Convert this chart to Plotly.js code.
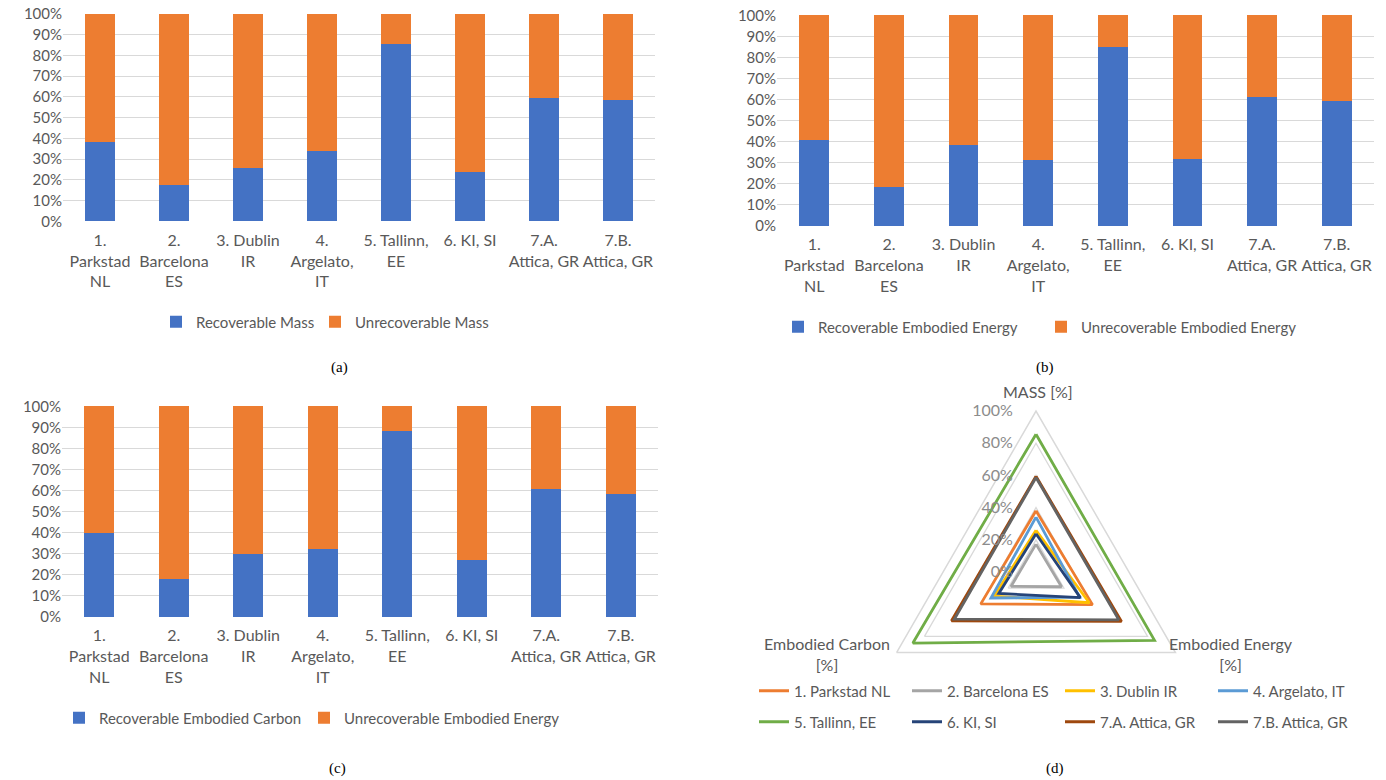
<!DOCTYPE html>
<html><head><meta charset="utf-8">
<script src="https://cdn.plot.ly/plotly-3.0.1.min.js"></script>
<style>html,body{margin:0;padding:0;background:#fff}#chart{width:1386px;height:780px}</style>
</head><body><div id="chart"></div>
<script>
// ---- data ----
const categories = ['1.<br>Parkstad<br>NL','2.<br>Barcelona<br>ES','3. Dublin<br>IR','4.<br>Argelato,<br>IT','5. Tallinn,<br>EE','6. KI, SI','7.A.<br>Attica, GR','7.B.<br>Attica, GR'];
const caseNames = ['1. Parkstad NL','2. Barcelona ES','3. Dublin IR','4. Argelato, IT','5. Tallinn, EE','6. KI, SI','7.A. Attica, GR','7.B. Attica, GR'];

const recoverableMass   = [0.380,0.173,0.259,0.341,0.856,0.238,0.595,0.587];
const unrecoverableMass = [0.620,0.827,0.741,0.659,0.144,0.762,0.405,0.413];

const recoverableEnergy   = [0.405,0.183,0.382,0.313,0.850,0.318,0.613,0.594];
const unrecoverableEnergy = [0.595,0.817,0.618,0.687,0.150,0.682,0.387,0.406];

const recoverableCarbon   = [0.396,0.179,0.299,0.323,0.883,0.267,0.606,0.585];
const unrecoverableCarbonPanel = [0.604,0.821,0.701,0.677,0.117,0.733,0.394,0.415];

const seriesNamesA = ['Recoverable Mass','Unrecoverable Mass'];
const seriesNamesB = ['Recoverable Embodied Energy','Unrecoverable Embodied Energy'];
const seriesNamesC = ['Recoverable Embodied Carbon','Unrecoverable Embodied Energy'];

const radarAxes = ['MASS [%]','Embodied Energy<br>[%]','Embodied Carbon<br>[%]'];
const yTicks = [0,0.1,0.2,0.3,0.4,0.5,0.6,0.7,0.8,0.9,1.0];
const radarTicks = [0,0.2,0.4,0.6,0.8,1.0];
const panelCaptions = ['(a)','(b)','(c)','(d)'];

// ---- styles ----
const W = 1386, H = 780;
const px = x => x / W, py = y => 1 - y / H;
const BLUE = '#4472C4', ORANGE = '#ED7D31';
const radarColors = ['#ED7D31','#A5A5A5','#FFC000','#5B9BD5','#70AD47','#264478','#9E480E','#636363'];
const TXT = '#595959';

const traces = [];
function addBars(xa, ya, rec, unrec, names, leg) {
  traces.push({type:'bar', x:categories, y:rec, name:names[0], marker:{color:BLUE}, xaxis:xa, yaxis:ya, legend:leg, hoverinfo:'y'});
  traces.push({type:'bar', x:categories, y:unrec, name:names[1], marker:{color:ORANGE}, xaxis:xa, yaxis:ya, legend:leg, legendwidth:260, hoverinfo:'y'});
}
addBars('x','y',recoverableMass,unrecoverableMass,seriesNamesA,'legend');
addBars('x2','y2',recoverableEnergy,unrecoverableEnergy,seriesNamesB,'legend2');
addBars('x3','y3',recoverableCarbon,unrecoverableCarbonPanel,seriesNamesC,'legend3');

caseNames.forEach((nm, i) => {
  const r = [recoverableMass[i], recoverableEnergy[i], recoverableCarbon[i], recoverableMass[i]];
  traces.push({type:'scatterpolar', subplot:'polar', mode:'lines', r:r,
    theta:[radarAxes[0], radarAxes[1], radarAxes[2], radarAxes[0]],
    name:nm, line:{color:radarColors[i], width:2.8}, legend: i < 4 ? 'legend4' : 'legend5'});
});

function xAxis(d, anchor) {
  return {domain:d, anchor:anchor, type:'category', showgrid:false, zeroline:false, showline:false, ticks:'',
    tickangle:0, tickfont:{size:16, color:TXT}, ticklabelstandoff:7, fixedrange:true};
}
function yAxis(d, anchor) {
  return {domain:d, anchor:anchor, range:[-0.002,1.002], tickvals:yTicks, tickformat:'.0%', gridcolor:'#d9d9d9', gridwidth:1,
    zeroline:false, showline:false, ticks:'', tickfont:{size:15, color:TXT}, fixedrange:true};
}
function legendAt(x, y, ew) {
  return {orientation:'h', x:px(x), y:py(y), xanchor:'left', yanchor:'middle', entrywidth:ew, entrywidthmode:'pixels',
    font:{size:15, color:TXT}, bgcolor:'rgba(0,0,0,0)', traceorder:'normal'};
}

const captionFont = {family:'"Liberation Serif", "DejaVu Serif", serif', size:15, color:'#000'};
const radarLabelFont = {size:16, color:TXT};

const layout = {
  width:W, height:H, margin:{l:0,r:0,t:0,b:0},
  paper_bgcolor:'#ffffff', plot_bgcolor:'rgba(0,0,0,0)',
  font:{family:'Lato, "Open Sans", sans-serif', size:15, color:TXT},
  barmode:'stack', bargap:0.6,
  showlegend:true,
  xaxis:  xAxis([px(63),  px(655)],  'y'),
  yaxis:  yAxis([py(221.7), py(13.5)], 'x'),
  xaxis2: xAxis([px(777), px(1374)], 'y2'),
  yaxis2: yAxis([py(226), py(15)],   'x2'),
  xaxis3: xAxis([px(62),  px(658)],  'y3'),
  yaxis3: yAxis([py(617), py(406)],  'x3'),
  legend:  legendAt(156, 322, 114),
  legend2: legendAt(778, 327, 218),
  legend3: legendAt(59, 718, 200),
  legend4: legendAt(754, 691, 108),
  legend5: legendAt(754, 722, 108),
  polar: {
    domain:{x:[px(875), px(1197)], y:[py(733), py(411)]},
    bgcolor:'rgba(0,0,0,0)',
    gridshape:'linear',
    angularaxis:{direction:'clockwise', rotation:90, showgrid:false, showline:true, linecolor:'#d9d9d9', linewidth:1.5,
      ticks:'', showticklabels:false, categoryorder:'array', categoryarray:radarAxes},
    radialaxis:{range:[0,1], tickvals:radarTicks, tickformat:'.0%', angle:90, tickangle:90, side:'counterclockwise', showline:false,
      ticks:'outside', ticklen:17, tickcolor:'rgba(0,0,0,0)', gridcolor:'#d9d9d9', gridwidth:1.3, tickfont:{size:16, color:'#8c8c8c'}}
  },
  annotations: [
    {text:panelCaptions[0], x:px(339), y:py(367), font:captionFont},
    {text:panelCaptions[1], x:px(1045), y:py(367), font:captionFont},
    {text:panelCaptions[2], x:px(337), y:py(768), font:captionFont},
    {text:panelCaptions[3], x:px(1055), y:py(768), font:captionFont},
    {text:radarAxes[0], x:px(1038), y:py(391), font:radarLabelFont},
    {text:radarAxes[1], x:px(1231), y:py(654), font:radarLabelFont},
    {text:radarAxes[2], x:px(827), y:py(654), font:radarLabelFont}
  ].map(a => Object.assign(a, {xref:'paper', yref:'paper', showarrow:false, xanchor:'center', yanchor:'middle', align:'center'}))
};

Plotly.newPlot('chart', traces, layout, {displayModeBar:false, staticPlot:true});
</script>
</body></html>
